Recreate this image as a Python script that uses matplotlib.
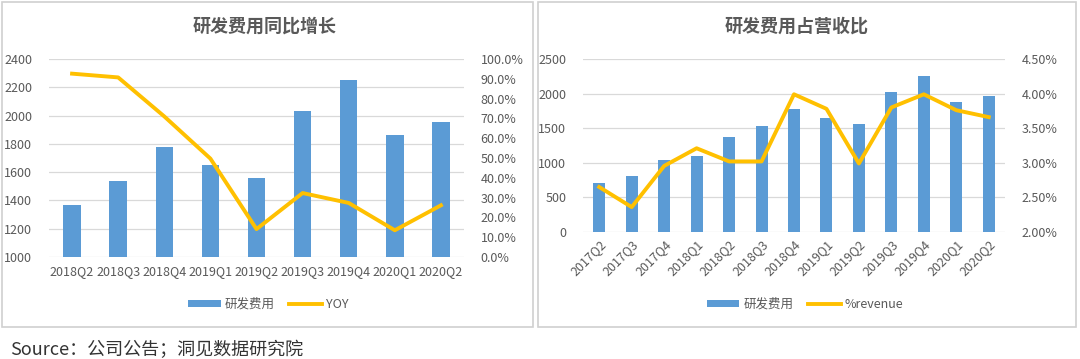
import matplotlib
matplotlib.use("Agg")
import matplotlib.pyplot as plt
from matplotlib.patches import Rectangle
from matplotlib.ticker import FuncFormatter, MultipleLocator

plt.rcParams['font.family'] = ['Noto Sans CJK SC', 'DejaVu Sans']

# ---- data ----
left_quarters = ["2018Q2", "2018Q3", "2018Q4", "2019Q1", "2019Q2",
                 "2019Q3", "2019Q4", "2020Q1", "2020Q2"]
left_rd = [1365, 1535, 1775, 1648, 1556, 2032, 2253, 1865, 1954]
left_yoy = [92.6, 90.7, 71.0, 49.7, 14.1, 32.3, 27.3, 13.5, 26.1]

right_quarters = ["2017Q2", "2017Q3", "2017Q4", "2018Q1", "2018Q2", "2018Q3",
                  "2018Q4", "2019Q1", "2019Q2", "2019Q3", "2019Q4", "2020Q1", "2020Q2"]
right_rd = [714, 806, 1047, 1105, 1371, 1530, 1776, 1651, 1554, 2027, 2249, 1877, 1959]
right_pct = [2.65, 2.36, 2.955, 3.21, 3.02, 3.02, 3.99, 3.78, 2.99, 3.80, 3.99, 3.76, 3.66]

left_title = "研发费用同比增长"
right_title = "研发费用占营收比"
source_text = "Source：公司公告；洞见数据研究院"

BAR = "#5B9BD5"
LINE = "#FFC000"
TXT = "#595959"
GRID = "#D9D9D9"

W, H = 1080, 359
fig = plt.figure(figsize=(W / 100, H / 100), dpi=100)
fig.patch.set_facecolor("white")

def px(x0, y0, x1, y1):
    return [x0 / W, 1 - y1 / H, (x1 - x0) / W, (y1 - y0) / H]

# panel borders
for (x0, x1) in [(2, 533), (538, 1076)]:
    fig.patches.append(Rectangle((x0 / W, 1 - 327 / H), (x1 - x0) / W, (327 - 2) / H,
                                 transform=fig.transFigure, fill=False,
                                 edgecolor="#D0D0D0", linewidth=1.2))

def style(ax, ax2):
    for a in (ax, ax2):
        for s in a.spines.values():
            s.set_visible(False)
        a.tick_params(length=0, colors=TXT, labelsize=9)
    ax.grid(axis="y", color=GRID, linewidth=0.9)
    ax.set_axisbelow(True)
    ax.patch.set_alpha(0)

# ---- left chart ----
ax = fig.add_axes(px(49, 59, 464, 257))
x = list(range(len(left_quarters)))
ax.bar(x, left_rd, width=0.38, color=BAR, label="研发费用", zorder=2)
ax.set_ylim(1000, 2400)
ax.yaxis.set_major_locator(MultipleLocator(200))
ax.set_xlim(-0.5, len(left_quarters) - 0.5)
ax.set_xticks(x)
ax.set_xticklabels(left_quarters)
ax2 = ax.twinx()
ax2.plot(x, left_yoy, color=LINE, linewidth=2.8, label="YOY", zorder=3)
ax2.set_ylim(0, 100)
ax2.yaxis.set_major_locator(MultipleLocator(10))
ax2.yaxis.set_major_formatter(FuncFormatter(lambda v, p: f"{v:.1f}%"))
style(ax, ax2)
ax.tick_params(axis="y", pad=12)
ax2.tick_params(axis="y", pad=12)
ax.tick_params(axis="x", pad=6)
fig.text(265 / W, 1 - 26 / H, left_title, ha="center", va="center",
         fontsize=13, fontweight="bold", color=TXT)
h1, l1 = ax.get_legend_handles_labels()
h2, l2 = ax2.get_legend_handles_labels()
fig.legend(h1 + h2, l1 + l2, loc="center", bbox_to_anchor=(268 / W, 1 - 304 / H),
           ncol=2, frameon=False, fontsize=9, labelcolor=TXT, handlelength=2.6,
           handleheight=0.5, columnspacing=1.2, handletextpad=0.3)

# ---- right chart ----
bx = fig.add_axes(px(583, 59, 1005, 232))
xr = list(range(len(right_quarters)))
bx.bar(xr, right_rd, width=0.37, color=BAR, label="研发费用", zorder=2)
bx.set_ylim(0, 2500)
bx.yaxis.set_major_locator(MultipleLocator(500))
bx.set_xlim(-0.5, len(right_quarters) - 0.5)
bx.set_xticks(xr)
bx.set_xticklabels(right_quarters, rotation=45, ha="right", rotation_mode="anchor")
bx2 = bx.twinx()
bx2.plot(xr, right_pct, color=LINE, linewidth=2.8, label="%revenue", zorder=3)
bx2.set_ylim(2.0, 4.5)
bx2.yaxis.set_major_locator(MultipleLocator(0.5))
bx2.yaxis.set_major_formatter(FuncFormatter(lambda v, p: f"{v:.2f}%"))
style(bx, bx2)
bx.tick_params(axis="y", pad=12)
bx2.tick_params(axis="y", pad=12)
bx.tick_params(axis="x", pad=4)
fig.text(797 / W, 1 - 26 / H, right_title, ha="center", va="center",
         fontsize=13, fontweight="bold", color=TXT)
h1, l1 = bx.get_legend_handles_labels()
h2, l2 = bx2.get_legend_handles_labels()
fig.legend(h1 + h2, l1 + l2, loc="center", bbox_to_anchor=(805 / W, 1 - 304 / H),
           ncol=2, frameon=False, fontsize=9, labelcolor=TXT, handlelength=2.6,
           handleheight=0.5, columnspacing=1.2, handletextpad=0.3)

fig.text(10 / W, 1 - 350 / H, source_text, ha="left", va="center",
         fontsize=13, color="#333333")

fig.savefig("out.png", dpi=100, facecolor="white")
